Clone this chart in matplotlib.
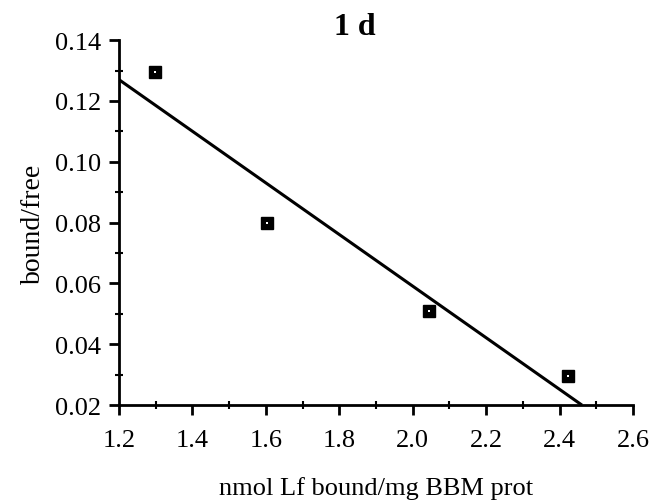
import matplotlib.pyplot as plt
import numpy as np
from matplotlib.ticker import MultipleLocator

# Scatchard data
bound = [1.298, 1.603, 2.045, 2.423]
ratio = [0.1295, 0.080, 0.0509, 0.0296]

plt.rcParams["font.family"] = ["Liberation Serif", "DejaVu Serif"]

fig = plt.figure(figsize=(6.54, 5.02), dpi=100)
ax = fig.add_axes([0.182, 0.191, 0.786, 0.727])

# regression line, drawn from the y axis down to the x axis
slope, icpt = np.polyfit(bound, ratio, 1)
x_end = (0.02 - icpt) / slope
xs = np.array([1.2, x_end])
ax.plot(xs, slope * xs + icpt, color="black", lw=2.2, solid_capstyle="butt")

ax.plot(bound, ratio, ls="none", marker="s", ms=8, mfc="black", mec="black")
ax.plot(bound, ratio, ls="none", marker="s", ms=2.0, mfc="white", mew=0)

ax.set_xlim(1.2, 2.6)
ax.set_ylim(0.02, 0.14)
ax.xaxis.set_major_locator(MultipleLocator(0.2))
ax.xaxis.set_minor_locator(MultipleLocator(0.1))
ax.yaxis.set_major_locator(MultipleLocator(0.02))
ax.yaxis.set_minor_locator(MultipleLocator(0.01))
ax.xaxis.set_major_formatter(lambda v, p: f"{v:.1f}")
ax.yaxis.set_major_formatter(lambda v, p: f"{v:.2f}")

for s in ("top", "right"):
    ax.spines[s].set_visible(False)
for s in ("left", "bottom"):
    ax.spines[s].set_linewidth(2.0)

ax.tick_params(which="major", direction="out", length=7, width=2, labelsize=19, pad=6)
ax.tick_params(axis="x", which="major", pad=10)
ax.tick_params(which="minor", direction="inout", length=6, width=1.5)

ax.set_xlabel("nmol Lf bound/mg BBM prot", fontsize=19, labelpad=18)
ax.set_ylabel("bound/free", fontsize=20, labelpad=6)
fig.text(0.542, 0.975, "1 d", ha="center", va="top", fontsize=23, fontweight="bold")

fig.savefig("out.png", dpi=100)
